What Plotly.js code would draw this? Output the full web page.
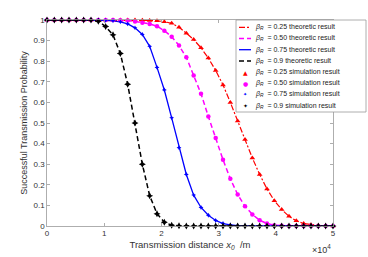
<!DOCTYPE html>
<html>
<head>
<meta charset="utf-8">
<script src="https://cdn.plot.ly/plotly-3.0.1.min.js"></script>
<style>html,body{margin:0;padding:0;background:#fff;}#chart{width:368px;height:257px;}</style>
</head>
<body>
<div id="chart"></div>
<script>
// Transmission distance x0 (m)
const distance = [0, 1282, 2564, 3846, 5128, 6410, 7692, 8974, 10256, 11538,
  12821, 14103, 15385, 16667, 17949, 19231, 20513, 21795, 23077, 24359,
  25641, 26923, 28205, 29487, 30769, 32051, 33333, 34615, 35897, 37179,
  38462, 39744, 41026, 42308, 43590, 44872, 46154, 47436, 48718, 50000];

// Successful transmission probability, beta_R = 0.25 / 0.50 / 0.75 / 0.9
const prob025 = [1, 1, 1, 1, 1, 1, 1, 1, 1, 1,
  1, 1, 1, 0.999, 0.998, 0.996, 0.992, 0.984, 0.965, 0.936,
  0.905, 0.865, 0.815, 0.755, 0.685, 0.6, 0.51, 0.42, 0.33, 0.25,
  0.18, 0.123, 0.08, 0.047, 0.025, 0.012, 0.006, 0.003, 0.001, 0];
const prob050 = [1, 1, 1, 1, 1, 1, 1, 1, 1, 1,
  0.999, 0.997, 0.993, 0.987, 0.981, 0.97, 0.948, 0.919, 0.876, 0.819,
  0.73, 0.642, 0.532, 0.427, 0.322, 0.229, 0.153, 0.096, 0.056, 0.028,
  0.012, 0.004, 0.001, 0, 0, 0, 0, 0, 0, 0];
const prob075 = [1, 1, 1, 1, 1, 1, 1, 1, 0.998, 0.996,
  0.991, 0.981, 0.962, 0.93, 0.872, 0.77, 0.66, 0.525, 0.38, 0.25,
  0.15, 0.09, 0.052, 0.027, 0.012, 0.005, 0.002, 0.001, 0, 0,
  0, 0, 0, 0, 0, 0, 0, 0, 0, 0];
const prob090 = [1, 1, 1, 1, 1, 1, 1, 0.994, 0.968, 0.928,
  0.837, 0.688, 0.5, 0.3, 0.147, 0.06, 0.018, 0.004, 0.001, 0,
  0, 0, 0, 0, 0, 0, 0, 0, 0, 0,
  0, 0, 0, 0, 0, 0, 0, 0, 0, 0];

const betaLabels = ['0.25', '0.50', '0.75', '0.9'];
const xTickVals = [0, 10000, 20000, 30000, 40000, 50000];
const xTickText = ['0', '1', '2', '3', '4', '5'];
const yTickVals = [0, 0.1, 0.2, 0.3, 0.4, 0.5, 0.6, 0.7, 0.8, 0.9, 1];
const yTickText = ['0', '0.1', '0.2', '0.3', '0.4', '0.5', '0.6', '0.7', '0.8', '0.9', '1'];

const series = [prob025, prob050, prob075, prob090];
const colors = ['#ff0000', '#ff00ff', '#0000ff', '#000000'];
const dashes = ['6px,2px,2px,2px', '5px,3px', 'solid', '5px,3px'];
const widths = [1.2, 1.5, 1.3, 1.5];
const symbols = ['triangle-up', 'circle', 'star-diamond', 'star-diamond'];
const msizes = [5, 4.5, 3.5, 5];

const traces = [];
series.forEach((s, i) => {
  traces.push({x: distance, y: s, type: 'scatter', mode: 'lines',
    name: 'βR = ' + betaLabels[i] + ' theoretic result', showlegend: false,
    line: {color: colors[i], width: widths[i], dash: dashes[i]}, cliponaxis: false, hoverinfo: 'skip'});
});
series.forEach((s, i) => {
  traces.push({x: distance, y: s, type: 'scatter', mode: 'markers',
    name: 'βR = ' + betaLabels[i] + ' simulation result', showlegend: false,
    marker: {color: colors[i], size: msizes[i], symbol: symbols[i], line: {width: 0}}, cliponaxis: false, hoverinfo: 'skip'});
});

// plot-area geometry (px) used to place the hand-built legend
const PL = 47, PW = 286, PT = 20, PH = 206;
const fx = px => (px - PL) / PW;
const fy = py => (PT + PH - py) / PH;

const shapes = [];
const annotations = [];
// legend box
shapes.push({type: 'rect', xref: 'paper', yref: 'paper', x0: fx(236), x1: fx(366), y0: fy(112), y1: fy(20),
  line: {color: '#9a9a9a', width: 0.8}, fillcolor: '#ffffff', layer: 'above'});
const rowY = [27.3, 38.5, 49.7, 60.9, 72.1, 83.3, 94.5, 105.7];
const glyphs = ['▲', '●', '✦', '✦'];
const glyphSize = [6, 6, 5, 6];
for (let k = 0; k < 8; k++) {
  const i = k % 4;
  const isSim = k >= 4;
  if (!isSim) {
    shapes.push({type: 'line', xref: 'paper', yref: 'paper', x0: fx(239), x1: fx(251), y0: fy(rowY[k]), y1: fy(rowY[k]),
      line: {color: colors[i], width: widths[i], dash: dashes[i]}, layer: 'above'});
  } else {
    annotations.push({xref: 'paper', yref: 'paper', x: fx(245), y: fy(rowY[k]), text: glyphs[i], showarrow: false,
      xanchor: 'center', yanchor: 'middle', font: {family: 'DejaVu Sans', size: glyphSize[i], color: colors[i]}});
  }
  annotations.push({xref: 'paper', yref: 'paper', x: fx(252.5), y: fy(rowY[k]),
    text: '<i>β</i><sub><i>R</i></sub>\u00a0\u00a0= ' + betaLabels[i] + (isSim ? ' simulation result' : ' theoretic result'),
    showarrow: false, xanchor: 'left', yanchor: 'middle',
    font: {family: 'Liberation Sans, Arial, sans-serif', size: 7, color: '#222'}});
}
annotations.push({xref: 'paper', yref: 'paper', x: 1, y: fy(249), text: '×10<sup>4</sup>', showarrow: false,
  xanchor: 'right', yanchor: 'middle', font: {family: 'Liberation Sans, Arial, sans-serif', size: 9, color: '#333'}});

const axisCommon = {showline: true, linecolor: '#9a9a9a', linewidth: 0.8, mirror: 'ticks', ticks: 'inside',
  ticklen: 3, tickcolor: '#9a9a9a', tickwidth: 0.8, showgrid: false, zeroline: false,
  tickfont: {family: 'Liberation Sans, Arial, sans-serif', size: 8, color: '#333'}};

const layout = {
  width: 368, height: 257,
  margin: {l: PL, r: 368 - PL - PW, t: PT, b: 257 - PT - PH, pad: 0},
  paper_bgcolor: '#ffffff', plot_bgcolor: '#ffffff',
  showlegend: false,
  xaxis: Object.assign({}, axisCommon, {range: [0, 50000], tickvals: xTickVals, ticktext: xTickText,
    title: {text: 'Transmission distance <i>x</i><sub><i>0</i></sub>\u00a0\u00a0/m', standoff: 3,
      font: {family: 'Liberation Sans, Arial, sans-serif', size: 9.5, color: '#333'}}}),
  yaxis: Object.assign({}, axisCommon, {range: [0, 1], tickvals: yTickVals, ticktext: yTickText,
    title: {text: 'Successful Transmission Probability', standoff: 4,
      font: {family: 'Liberation Sans, Arial, sans-serif', size: 9, color: '#333'}}}),
  shapes: shapes,
  annotations: annotations
};

Plotly.newPlot('chart', traces, layout, {staticPlot: true, displayModeBar: false});
</script>
</body>
</html>
